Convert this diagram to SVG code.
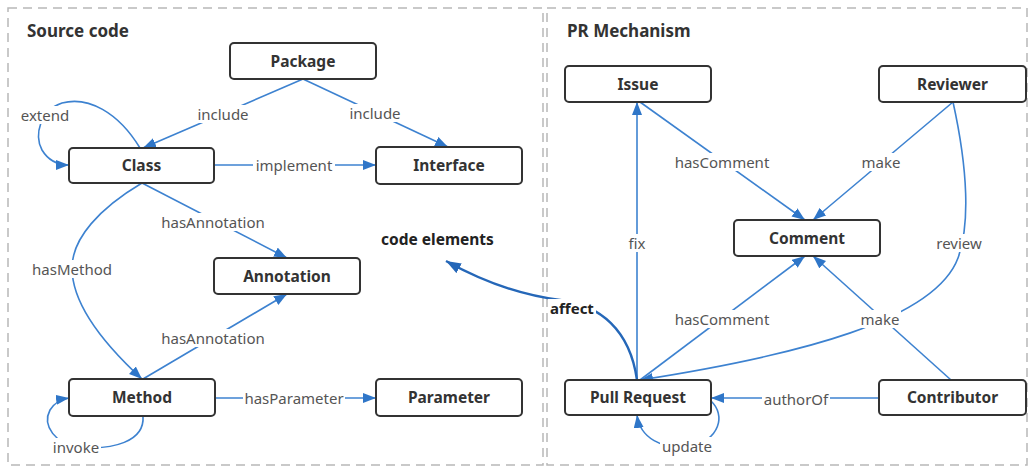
<svg xmlns="http://www.w3.org/2000/svg" width="1030" height="468" viewBox="0 0 1030 468">
  <style>
    .panel { fill: none; stroke: #b8b8b8; stroke-width: 1.5; stroke-dasharray: 9 6; }
    .title { font-family: "Noto Sans", "Open Sans", sans-serif; font-weight: bold; font-size: 17px; fill: #333; }
    .node rect { fill: #fff; stroke: #333; stroke-width: 2; }
    .node text { font-family: "Noto Sans", "Open Sans", sans-serif; font-weight: bold; font-size: 15.5px; fill: #333; text-anchor: middle; }
    .edge { fill: none; stroke: #3d82d0; stroke-width: 1.6; marker-end: url(#arrow); }
    .edge.strong { stroke: #2567b8; stroke-width: 2.4; marker-end: url(#arrowStrong); }
    .lbl rect { fill: #fff; }
    .lbl text { font-family: "Noto Sans", "Open Sans", sans-serif; font-size: 15px; fill: #555; text-anchor: middle; }
    .lbl text.bold { font-weight: bold; fill: #222; }
    .free { font-family: "Noto Sans", "Open Sans", sans-serif; font-weight: bold; font-size: 15.5px; fill: #222; }
  </style>
  <defs>
    <marker id="arrow" markerUnits="userSpaceOnUse" markerWidth="14" markerHeight="11" refX="13" refY="5" orient="auto">
      <path d="M0,0 L13,5 L0,10 z" fill="#2f76c8"/>
    </marker>
    <marker id="arrowStrong" markerUnits="userSpaceOnUse" markerWidth="16" markerHeight="12" refX="15" refY="5.5" orient="auto">
      <path d="M0,0 L15,5.5 L0,11 z" fill="#2567b8"/>
    </marker>
  </defs>

  <rect width="1030" height="468" fill="#fff"/>

  <!-- panels -->
  <rect class="panel" x="8" y="8" width="535" height="457"/>
  <rect class="panel" x="547" y="8" width="480" height="457"/>
  <text class="title" x="27" y="37">Source code</text>
  <text class="title" x="567" y="37">PR Mechanism</text>

  <!-- connectors -->
  <g id="connectors">
    <path class="edge" d="M303,79 L143,148"/>
    <path class="edge" d="M303,79 L448,147"/>
    <path class="edge" d="M214,165 L376,165"/>
    <path class="edge" d="M140,148 C118,112 88,96 62,103 C40,110 34,135 42,150 C48,160 57,165 69,165"/>
    <path class="edge" d="M142,183 L287,258"/>
    <path class="edge" d="M142,183 C100,208 72,238 72,268 C72,305 105,345 142,379"/>
    <path class="edge" d="M143,379 L287,294"/>
    <path class="edge" d="M215,398 L376,398"/>
    <path class="edge" d="M143,416 C145,442 112,450 80,447 C55,445 42,425 50,410 C55,402 62,399 69,398"/>

    <path class="edge" d="M640,102 L805,220"/>
    <path class="edge" d="M953,102 L813,220"/>
    <path class="edge" d="M637,380 L637,102"/>
    <path class="edge" d="M953,102 C968,170 970,225 958,258 C935,320 800,355 640,380"/>
    <path class="edge" d="M640,380 L805,256"/>
    <path class="edge" d="M951,380 L813,256"/>
    <path class="edge" d="M879,398 L711,398"/>
    <path class="edge" d="M711,401 C726,415 720,440 690,446 C662,450 640,438 637,415"/>
    <path class="edge strong" d="M637,380 C630,330 600,305 560,300 C520,295 480,280 446,261"/>

    <!-- edge labels -->
    <g class="lbl"><rect x="195" y="105" width="56" height="18"/><text x="223" y="119.5">include</text></g>
    <g class="lbl"><rect x="347" y="104" width="56" height="18"/><text x="375" y="118.5">include</text></g>
    <g class="lbl"><rect x="253" y="156" width="82" height="18"/><text x="294" y="170.5">implement</text></g>
    <g class="lbl"><rect x="18" y="106" width="54" height="18"/><text x="45" y="120.5">extend</text></g>
    <g class="lbl"><rect x="157" y="213" width="112" height="18"/><text x="213" y="227.5">hasAnnotation</text></g>
    <g class="lbl"><rect x="28" y="260" width="88" height="18"/><text x="72" y="274.5">hasMethod</text></g>
    <g class="lbl"><rect x="157" y="329" width="112" height="18"/><text x="213" y="343.5">hasAnnotation</text></g>
    <g class="lbl"><rect x="243" y="389" width="102" height="18"/><text x="294" y="403.5">hasParameter</text></g>
    <g class="lbl"><rect x="51" y="438" width="50" height="18"/><text x="76" y="452.5">invoke</text></g>

    <g class="lbl"><rect x="671" y="153" width="102" height="18"/><text x="722" y="167.5">hasComment</text></g>
    <g class="lbl"><rect x="860" y="153" width="42" height="18"/><text x="881" y="167.5">make</text></g>
    <g class="lbl"><rect x="627" y="234" width="20" height="18"/><text x="637" y="248.5">fix</text></g>
    <g class="lbl"><rect x="934" y="234" width="50" height="18"/><text x="959" y="248.5">review</text></g>
    <g class="lbl"><rect x="671" y="310" width="102" height="18"/><text x="722" y="324.5">hasComment</text></g>
    <g class="lbl"><rect x="859" y="310" width="42" height="18"/><text x="880" y="324.5">make</text></g>
    <g class="lbl"><rect x="762" y="390" width="68" height="18"/><text x="796" y="404.5">authorOf</text></g>
    <g class="lbl"><rect x="660" y="437" width="54" height="18"/><text x="687" y="451.5">update</text></g>
    <g class="lbl"><rect x="548" y="299" width="48" height="18"/><text class="bold" x="572" y="313.5">affect</text></g>
  </g>

  <!-- source code nodes -->
  <g id="package" class="node"><rect x="230" y="43" width="146" height="36" rx="4"/><text x="303" y="66.5">Package</text></g>
  <g id="class" class="node"><rect x="69" y="148" width="145" height="35" rx="4"/><text x="141.5" y="171">Class</text></g>
  <g id="interface" class="node"><rect x="376" y="147" width="146" height="37" rx="4"/><text x="449" y="171">Interface</text></g>
  <g id="annotation" class="node"><rect x="214" y="258" width="146" height="36" rx="4"/><text x="287" y="281.5">Annotation</text></g>
  <g id="method" class="node"><rect x="69" y="379" width="146" height="37" rx="4"/><text x="142" y="403">Method</text></g>
  <g id="parameter" class="node"><rect x="376" y="379" width="146" height="37" rx="4"/><text x="449" y="403">Parameter</text></g>
  <text id="code-elements" class="free" x="381" y="245">code elements</text>

  <!-- PR mechanism nodes -->
  <g id="issue" class="node"><rect x="565" y="66" width="146" height="36" rx="4"/><text x="638" y="89.5">Issue</text></g>
  <g id="reviewer" class="node"><rect x="879" y="66" width="147" height="36" rx="4"/><text x="952.5" y="89.5">Reviewer</text></g>
  <g id="comment" class="node"><rect x="734" y="220" width="146" height="36" rx="4"/><text x="807" y="243.5">Comment</text></g>
  <g id="pull-request" class="node"><rect x="565" y="380" width="146" height="35" rx="4"/><text x="638" y="403">Pull Request</text></g>
  <g id="contributor" class="node"><rect x="879" y="380" width="147" height="35" rx="4"/><text x="952.5" y="403">Contributor</text></g>
</svg>
